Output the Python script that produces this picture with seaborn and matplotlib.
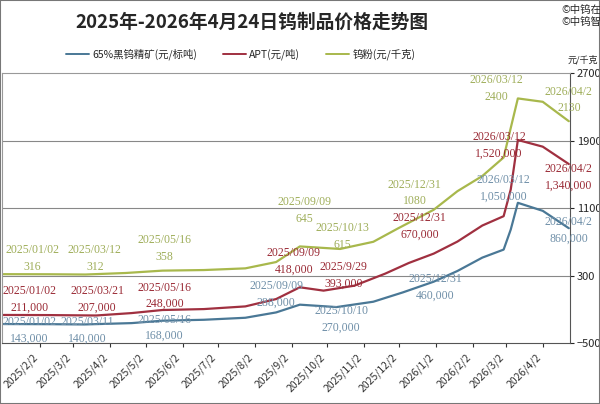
import pandas as pd
import matplotlib
matplotlib.use("Agg")
import matplotlib.pyplot as plt
import matplotlib.dates as mdates
import seaborn as sns

sns.set_style("white")
plt.rcParams['font.family'] = ['Noto Sans CJK SC', 'DejaVu Sans']

# 钨粉 (元/千克)
powder_dates = ["2025-01-02", "2025-02-10", "2025-03-12", "2025-04-15", "2025-05-16", "2025-06-20",
                "2025-07-25", "2025-08-20", "2025-09-09", "2025-10-13", "2025-11-10", "2025-12-01",
                "2025-12-31", "2026-01-20", "2026-02-10", "2026-02-28", "2026-03-06", "2026-03-12",
                "2026-04-02", "2026-04-24"]
powder_vals = [316, 315, 312, 330, 358, 365, 385, 460, 645, 615, 700, 860,
               1080, 1300, 1480, 1700, 2050, 2400, 2360, 2130]

# APT (千元/吨)
apt_dates = ["2025-01-02", "2025-02-10", "2025-03-21", "2025-04-20", "2025-05-16", "2025-06-20",
             "2025-07-25", "2025-08-20", "2025-09-09", "2025-09-29", "2025-10-25", "2025-11-20",
             "2025-12-10", "2025-12-31", "2026-01-20", "2026-02-10", "2026-02-28", "2026-03-06",
             "2026-03-12", "2026-04-02", "2026-04-24"]
apt_vals = [211, 210, 207, 225, 248, 255, 275, 330, 418, 393, 430, 520,
            600, 670, 760, 880, 950, 1150, 1520, 1470, 1340]

# 65%黑钨精矿 (千元/标吨)
ore_dates = ["2025-01-02", "2025-02-10", "2025-03-11", "2025-04-20", "2025-05-16", "2025-06-20",
             "2025-07-25", "2025-08-20", "2025-09-09", "2025-10-10", "2025-11-10", "2025-12-05",
             "2025-12-31", "2026-01-20", "2026-02-10", "2026-02-28", "2026-03-06", "2026-03-12",
             "2026-04-02", "2026-04-24"]
ore_vals = [143, 142, 140, 150, 168, 175, 190, 230, 288, 270, 310, 380,
            460, 540, 640, 700, 850, 1050, 990, 860]

BLUE, RED, GREEN = "#4a7896", "#a03040", "#a8b84c"
BLUE_T, RED_T, GREEN_T = "#6f8fa8", "#9a2a35", "#9fae5a"


def scale_k(v):
    # APT / ore plotted on the hidden left scale
    return [x * 1.585 - 502 for x in v]


fig = plt.figure(figsize=(6, 4.04), dpi=100)
ax = fig.add_axes([0.004, 0.151, 0.946, 0.668])

sns.lineplot(x=pd.to_datetime(ore_dates), y=scale_k(ore_vals), color=BLUE, lw=1.6, ax=ax)
sns.lineplot(x=pd.to_datetime(apt_dates), y=scale_k(apt_vals), color=RED, lw=1.6, ax=ax)
sns.lineplot(x=pd.to_datetime(powder_dates), y=powder_vals, color=GREEN, lw=1.6, ax=ax)

ax.set_ylim(-500, 2700)
ax.set_xlim(pd.Timestamp("2025-01-01"), pd.Timestamp("2026-04-25"))
ax.set_xlabel("")
ax.set_ylabel("")
ax.yaxis.tick_right()
ax.set_yticks([-500, 300, 1100, 1900, 2700])
ax.tick_params(axis='y', labelsize=8, length=3, right=True, pad=2)
for y in [300, 1100, 1900]:
    ax.axhline(y, color="#888888", lw=0.8, zorder=0)
ticks = pd.date_range("2025-01-02", "2026-04-02", freq="MS") + pd.Timedelta(days=1)
ax.set_xticks(ticks)
ax.xaxis.set_major_formatter(mdates.DateFormatter("%Y/%-m/%-d"))
ax.tick_params(axis='x', labelsize=7.5, rotation=45, length=3, bottom=True, colors="#333333")
for lab in ax.get_xticklabels():
    lab.set_ha("right")
for s in ["left", "top"]:
    ax.spines[s].set_color("#999999")
for s in ["right", "bottom"]:
    ax.spines[s].set_color("#555555")
ax.text(0.995, 1.04, "元/千克", transform=ax.transAxes, fontsize=6.5, ha="left")


def note(date, y, text, color):
    ax.text(pd.Timestamp(date), y, text, color=color, fontsize=8.5, ha="center", va="center",
            family=['Liberation Serif', 'DejaVu Serif'], linespacing=1.5)


note("2025-01-26", 500, "2025/01/02\n316", GREEN_T)
note("2025-03-20", 500, "2025/03/12\n312", GREEN_T)
note("2025-05-18", 620, "2025/05/16\n358", GREEN_T)
note("2025-09-13", 1070, "2025/09/09\n645", GREEN_T)
note("2025-10-15", 760, "2025/10/13\n615", GREEN_T)
note("2025-12-15", 1280, "2025/12/31\n1080", GREEN_T)
note("2026-02-22", 2520, "2026/03/12\n2400", GREEN_T)
note("2026-04-24", 2380, "2026/04/2\n2130", GREEN_T)

note("2025-01-24", 18, "2025/01/02\n211,000", RED_T)
note("2025-03-22", 18, "2025/03/21\n207,000", RED_T)
note("2025-05-18", 60, "2025/05/16\n248,000", RED_T)
note("2025-09-04", 470, "2025/09/09\n418,000", RED_T)
note("2025-10-16", 300, "2025/9/29\n393,000", RED_T)
note("2025-12-19", 880, "2025/12/31\n670,000", RED_T)
note("2026-02-24", 1840, "2026/03/12\n1,520,000", RED_T)
note("2026-04-24", 1460, "2026/04/2\n1,340,000", RED_T)

note("2025-01-24", -350, "2025/01/02\n143,000", BLUE_T)
note("2025-03-14", -350, "2025/03/11\n140,000", BLUE_T)
note("2025-05-18", -320, "2025/05/16\n168,000", BLUE_T)
note("2025-08-20", 80, "2025/09/09\n288,000", BLUE_T)
note("2025-10-14", -220, "2025/10/10\n270,000", BLUE_T)
note("2026-01-01", 160, "2025/12/31\n460,000", BLUE_T)
note("2026-02-28", 1330, "2026/03/12\n1,050,000", BLUE_T)
note("2026-04-24", 840, "2026/04/2\n860,000", BLUE_T)

fig.text(0.42, 0.945, "2025年-2026年4月24日钨制品价格走势图", fontsize=13.5, weight="bold",
         ha="center", va="center")
fig.text(0.935, 0.96, "©中钨在线\n©中钨智造", fontsize=7.5, ha="left", va="center")
ax.legend(handles=[plt.Line2D([], [], color=c, lw=1.4) for c in (BLUE, RED, GREEN)],
          labels=["65%黑钨精矿(元/标吨)", "APT(元/吨)", "钨粉(元/千克)"],
          loc="center", bbox_to_anchor=(0.42, 1.07), ncol=3, frameon=False, fontsize=7.5,
          handlelength=2.2, columnspacing=2.5, handletextpad=0.3)
fig.patches.append(plt.Rectangle((0, 0), 1, 1, transform=fig.transFigure, fill=False,
                                 edgecolor="#777777", lw=1.5))
fig.savefig("out.png", dpi=100)
